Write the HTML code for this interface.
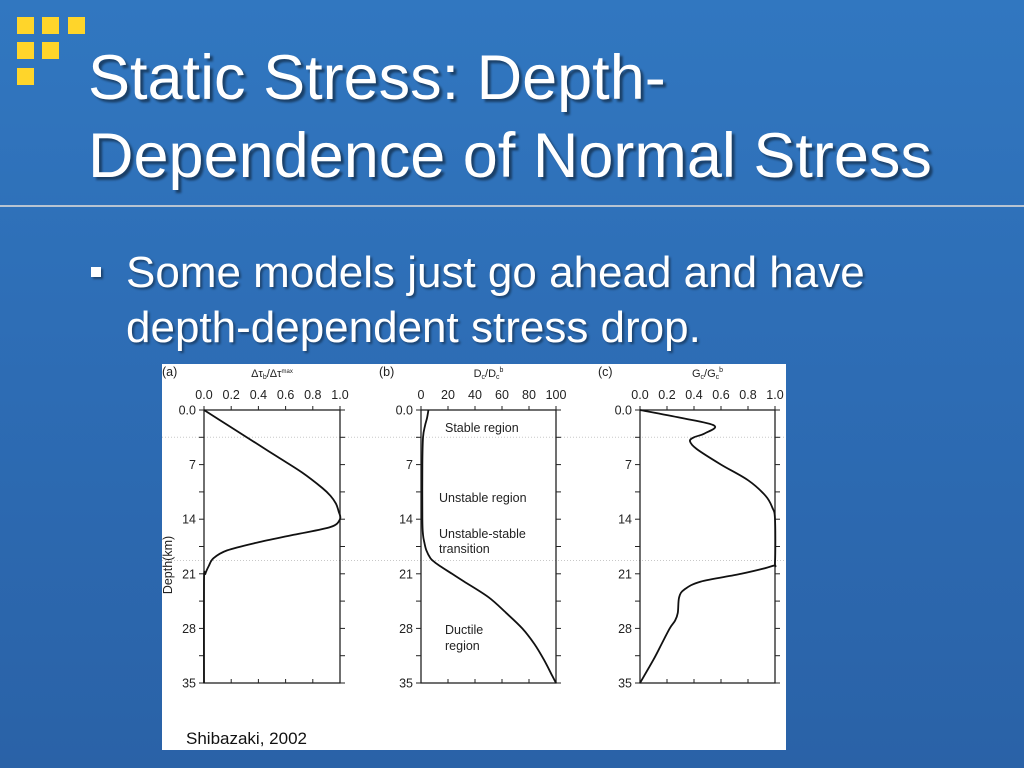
<!DOCTYPE html>
<html><head><meta charset="utf-8"><style>
html,body{margin:0;padding:0;}
body{width:1024px;height:768px;overflow:hidden;background:linear-gradient(180deg,#3177c0 0%,#2d6cb4 50%,#2a62a7 100%);position:relative;font-family:"Liberation Sans",sans-serif;}
.sq{position:absolute;width:17px;height:17px;background:#ffd52a;}
.title{position:absolute;left:88px;top:39px;color:#fff;font-size:63px;line-height:78px;text-shadow:3px 3px 2px rgba(0,0,0,0.45);white-space:nowrap;}
.rule{position:absolute;left:0;top:205px;width:1024px;height:2px;background:#b8c4d2;}
.bullet{position:absolute;left:91px;top:267px;width:10px;height:10px;background:#fff;box-shadow:2px 2px 2px rgba(0,0,0,0.4);}
.body{position:absolute;left:126px;top:245px;color:#fff;font-size:44px;line-height:55px;text-shadow:2px 2px 2px rgba(0,0,0,0.4);white-space:nowrap;}
svg{position:absolute;left:0;top:0;}
</style></head><body>
<div class="sq" style="left:17px;top:17px"></div>
<div class="sq" style="left:42px;top:17px"></div>
<div class="sq" style="left:68px;top:17px"></div>
<div class="sq" style="left:17px;top:42px"></div>
<div class="sq" style="left:42px;top:42px"></div>
<div class="sq" style="left:17px;top:68px"></div>
<div class="title">Static Stress: Depth-<br>Dependence of Normal Stress</div>
<div class="rule"></div>
<div class="bullet"></div>
<div class="body">Some models just go ahead and have<br>depth-dependent stress drop.</div>
<svg width="1024" height="768" id="fig">
<rect x="162" y="364" width="624" height="386" fill="#fff"/>
<text x="186" y="744" font-size="17" fill="#111">Shibazaki, 2002</text>
</svg>
<script>
// Panel (a) Δτ/Δτmax
const depthA=[0,2,4,6,8,10,11,12,13,14,15,16,17,18,19,20,21,22,35];
const valA=[0,0.18,0.36,0.54,0.72,0.87,0.93,0.97,0.99,1.0,0.93,0.66,0.39,0.17,0.07,0.035,0.01,0,0];
// Panel (b) Dc/Dc^b
const depthB=[0,1,2,3.5,7,14,16,17,18,19,19.5,20,21,22,24,26,28,30,32,34,35];
const valB=[5.5,4.5,3,1.5,1,1,1.5,2.5,4,7,10,14,23,32,50,63,75,84,91,97,100];
// Panel (c) Gc/Gc^b
const depthC=[0,1,2,3,3.5,4,5,7,9,11,12.5,14,19.5,20,21,22,23,24,26,27,28,30,32,35];
const valC=[0,0.3,0.55,0.48,0.4,0.37,0.42,0.6,0.8,0.93,0.98,1.0,1.0,0.98,0.75,0.45,0.33,0.29,0.28,0.26,0.22,0.16,0.1,0];
const depthTicks=[0,7,14,21,28,35];
const depthTickLabels=["0.0","7","14","21","28","35"];
const ticksA=[0,0.2,0.4,0.6,0.8,1.0];
const ticksALabels=["0.0","0.2","0.4","0.6","0.8","1.0"];
const ticksB=[0,20,40,60,80,100];
const ticksBLabels=["0","20","40","60","80","100"];
const ticksC=ticksA, ticksCLabels=ticksALabels;

const NS="http://www.w3.org/2000/svg";
const svg=document.getElementById('fig');
const Y0=410,Y1=683;
const yScale=d=>Y0+(Y1-Y0)*d/35;
function mk(tag,attrs,parent){const e=document.createElementNS(NS,tag);for(const k in attrs)e.setAttribute(k,attrs[k]);(parent||svg).appendChild(e);return e;}

[3.5,19.3].forEach(d=>{
  const l=mk('line',{x1:162,x2:786,y1:yScale(d),y2:yScale(d),stroke:'#c8c8c8','stroke-width':1,'stroke-dasharray':'1,2'});
  
  
});

function panel(id,x0,x1,xmax,ticks,tickLabels,depths,vals,label,axisTitle){
  const g=mk('g',{});
  
  
  const xs=v=>x0+(x1-x0)*v/xmax;
  const fr=mk('rect',{x:x0,y:Y0,width:x1-x0,height:Y1-Y0,fill:'none',stroke:'#222','stroke-width':1.3},g);
  
  
  ticks.forEach((t,i)=>{
    mk('line',{x1:xs(t),x2:xs(t),y1:Y0,y2:Y0-4,stroke:'#222'},g);
    mk('line',{x1:xs(t),x2:xs(t),y1:Y1,y2:Y1-4,stroke:'#222'},g);
    const tx=mk('text',{x:xs(t),y:399,'font-size':12.5,'text-anchor':'middle',fill:'#222'},g);
    tx.textContent=tickLabels[i];
    
    
  });
  for(let d=0;d<=35;d+=3.5){
    mk('line',{x1:x0-5,x2:x0,y1:yScale(d),y2:yScale(d),stroke:'#222'},g);
    mk('line',{x1:x1,x2:x1+5,y1:yScale(d),y2:yScale(d),stroke:'#222'},g);
  }
  depthTicks.forEach((d,i)=>{
    const tx=mk('text',{x:x0-8,y:yScale(d)+4.5,'font-size':12.5,'text-anchor':'end',fill:'#222'},g);
    tx.textContent=depthTickLabels[i];
    
    
  });
  const pts=depths.map((d,i)=>[xs(vals[i]),yScale(d)]);
  let dstr='M'+pts[0][0]+','+pts[0][1];
  for(let i=0;i<pts.length-1;i++){
    const p0=pts[Math.max(0,i-1)],p1=pts[i],p2=pts[i+1],p3=pts[Math.min(pts.length-1,i+2)];
    const c1=[p1[0]+(p2[0]-p0[0])/6,p1[1]+(p2[1]-p0[1])/6],c2=[p2[0]-(p3[0]-p1[0])/6,p2[1]-(p3[1]-p1[1])/6];
    dstr+=` C${c1[0]},${c1[1]} ${c2[0]},${c2[1]} ${p2[0]},${p2[1]}`;
  }
  const path=mk('path',{d:dstr,fill:'none',stroke:'#111','stroke-width':1.8},g);
  
  
  const lb=mk('text',{x:x0-42,y:376,'font-size':12.5,fill:'#222'},g);
  lb.textContent=label;
  
  
  const at=mk('text',{x:(x0+x1)/2,y:377,'font-size':11,'text-anchor':'middle',fill:'#222'},g);
  at.innerHTML=axisTitle;
  
  
  return g;
}
panel('a',204,340,1,ticksA,ticksALabels,depthA,valA,'(a)','Δτ<tspan font-size="7" dy="2">b</tspan><tspan dy="-2">/Δτ</tspan><tspan font-size="6" dy="-4">max</tspan>');
panel('b',421,556,100,ticksB,ticksBLabels,depthB,valB,'(b)','D<tspan font-size="7" dy="2">c</tspan><tspan dy="-2">/D</tspan><tspan font-size="7" dy="2">c</tspan><tspan font-size="7" dy="-7">b</tspan>');
panel('c',640,775,1,ticksC,ticksCLabels,depthC,valC,'(c)','G<tspan font-size="7" dy="2">c</tspan><tspan dy="-2">/G</tspan><tspan font-size="7" dy="2">c</tspan><tspan font-size="7" dy="-7">b</tspan>');

const yt=mk('text',{x:0,y:0,'font-size':12.5,'text-anchor':'middle',fill:'#222',transform:'translate(172,565) rotate(-90)'});
yt.textContent='Depth(km)';



[['Stable region',445,432],['Unstable region',439,502],['Unstable-stable',439,538],['transition',439,553],['Ductile',445,634],['region',445,650]].forEach(a=>{
  const t=mk('text',{x:a[1],y:a[2],'font-size':12.5,fill:'#222'});
  t.textContent=a[0];
  
  
});
</script>
</body></html>
